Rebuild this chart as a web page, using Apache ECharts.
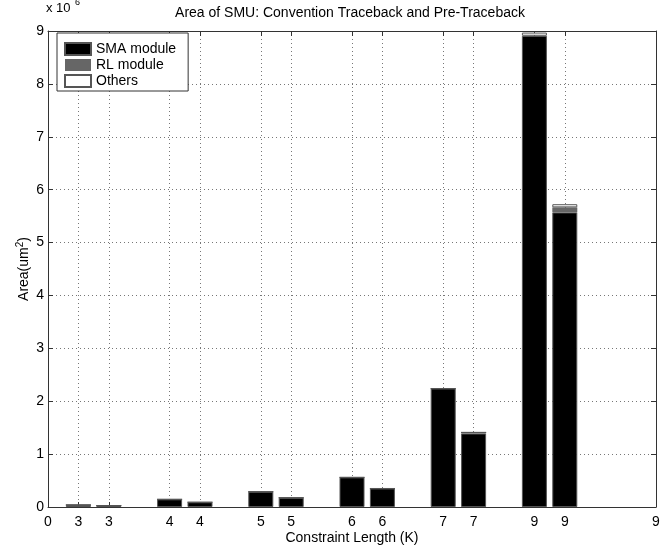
<!DOCTYPE html>
<html>
<head>
<meta charset="utf-8">
<script src="https://cdn.jsdelivr.net/npm/echarts@6/dist/echarts.min.js"></script>
<style>
  html, body { margin: 0; padding: 0; background: #fff; }
  #chart { width: 669px; height: 548px; }
</style>
</head>
<body>
<div id="chart"></div>
<script>
// Bar positions along the x axis (conventional / pre-traceback pairs per K)
const barPositions = [1, 2, 4, 5, 7, 8, 10, 11, 13, 14, 16, 17];

// Tick positions and their labels (constraint length K)
const tickPositions = [0, 1, 2, 4, 5, 7, 8, 10, 11, 13, 14, 16, 17, 20];
const tickLabels = ['0', '3', '3', '4', '4', '5', '5', '6', '6', '7', '7', '9', '9', '9'];

// Area components, in units of 10^6 um^2
const smaModule = [0.04, 0.028, 0.145, 0.09, 0.29, 0.176, 0.56, 0.35, 2.24, 1.39, 8.91, 5.57];
const rlModule  = [0, 0, 0, 0, 0, 0, 0, 0, 0, 0.02, 0, 0.095];
const others    = [0, 0, 0, 0, 0, 0, 0, 0, 0, 0, 0.06, 0.06];

const yTicks = [0, 1, 2, 3, 4, 5, 6, 7, 8, 9];
const X_MAX = 20;

const FONT = 'Liberation Sans, Arial, sans-serif';

// Slot index 0..X_MAX on a hidden category axis so the three parts stack by index
const slots = Array.from({ length: X_MAX + 1 }, (_, i) => String(i));
function toSlots(vals) {
  const out = slots.map(() => null);
  barPositions.forEach((x, i) => { out[x] = vals[i]; });
  return out;
}

const chart = echarts.init(document.getElementById('chart'), null, { renderer: 'canvas' });

const gridLine = { show: true, lineStyle: { color: '#777', type: [1, 3], width: 1 } };
const frameLine = { show: true, onZero: false, lineStyle: { color: '#333', width: 1 } };
const innerTick = { show: true, inside: true, length: 5, lineStyle: { color: '#333' } };

function barSeries(name, vals, color, borderWidth) {
  return {
    name: name,
    type: 'bar',
    stack: 'area',
    xAxisIndex: 2,
    yAxisIndex: 0,
    barWidth: 25,
    data: toSlots(vals),
    itemStyle: { color: color, borderColor: '#555', borderWidth: borderWidth },
    emphasis: { disabled: true }
  };
}

chart.setOption({
  animation: false,
  backgroundColor: '#fff',
  textStyle: { fontFamily: FONT, color: '#000' },
  title: {
    text: 'Area of SMU: Convention Traceback and Pre-Traceback',
    left: 345,
    textAlign: 'center',
    top: 1,
    textStyle: { fontFamily: FONT, fontSize: 14, fontWeight: 'normal', color: '#000' }
  },
  graphic: [
    { type: 'text', left: 46, top: 2, style: { text: 'x 10', font: '13px ' + FONT, fill: '#000' } },
    { type: 'text', left: 75, top: -2, style: { text: '6', font: '9px ' + FONT, fill: '#000' } }
  ],
  legend: {
    orient: 'vertical',
    left: 57,
    top: 33,
    padding: [9, 12, 3, 7],
    itemWidth: 26,
    itemHeight: 12,
    itemGap: 2,
    icon: 'rect',
    backgroundColor: '#fff',
    borderColor: '#333',
    borderWidth: 1,
    selectedMode: false,
    textStyle: { fontFamily: FONT, fontSize: 14, color: '#000' },
    data: ['SMA module', 'RL module', 'Others']
  },
  grid: { left: 48, right: 13, top: 31, bottom: 41, containLabel: false, outerBoundsMode: 'none' },
  xAxis: [
    {
      type: 'value',
      min: 0,
      max: X_MAX,
      position: 'bottom',
      name: 'Constraint Length (K)',
      nameLocation: 'middle',
      nameMoveOverlap: false,
      nameGap: 24,
      nameTextStyle: { fontFamily: FONT, fontSize: 14, color: '#000' },
      axisLine: frameLine,
      axisTick: Object.assign({ customValues: tickPositions }, innerTick),
      axisLabel: {
        customValues: tickPositions,
        margin: 8,
        fontFamily: FONT, fontSize: 14, color: '#000',
        formatter: (v) => { const i = tickPositions.indexOf(v); return i >= 0 ? tickLabels[i] : ''; }
      },
      splitLine: gridLine
    },
    {
      type: 'value',
      min: 0,
      max: X_MAX,
      position: 'top',
      axisLine: frameLine,
      axisTick: Object.assign({ customValues: tickPositions }, innerTick),
      axisLabel: { show: false },
      splitLine: { show: false }
    },
    {
      type: 'category',
      data: slots,
      boundaryGap: false,
      position: 'bottom',
      show: false
    }
  ],
  yAxis: [
    {
      type: 'value',
      min: 0,
      max: 9,
      interval: 1,
      position: 'left',
      name: 'Area(um{s|2})',
      nameLocation: 'middle',
      nameRotate: 90,
      nameMoveOverlap: false,
      nameGap: 15,
      nameTextStyle: {
        fontFamily: FONT, fontSize: 14, color: '#000',
        rich: { s: { fontFamily: FONT, fontSize: 10, color: '#000', verticalAlign: 'top', padding: [0, 0, 8, 0] } }
      },
      axisLine: frameLine,
      axisTick: innerTick,
      axisLabel: {
        margin: 4, fontFamily: FONT, fontSize: 14, color: '#000',
        formatter: (v) => String(yTicks[yTicks.indexOf(v)])
      },
      splitLine: gridLine
    },
    {
      type: 'value',
      min: 0,
      max: 9,
      interval: 1,
      position: 'right',
      axisLine: frameLine,
      axisTick: innerTick,
      axisLabel: { show: false },
      splitLine: { show: false }
    }
  ],
  series: [
    barSeries('SMA module', smaModule, '#000', 1),
    barSeries('RL module', rlModule, '#666', 0),
    barSeries('Others', others, '#fff', 1)
  ]
});
</script>
</body>
</html>
